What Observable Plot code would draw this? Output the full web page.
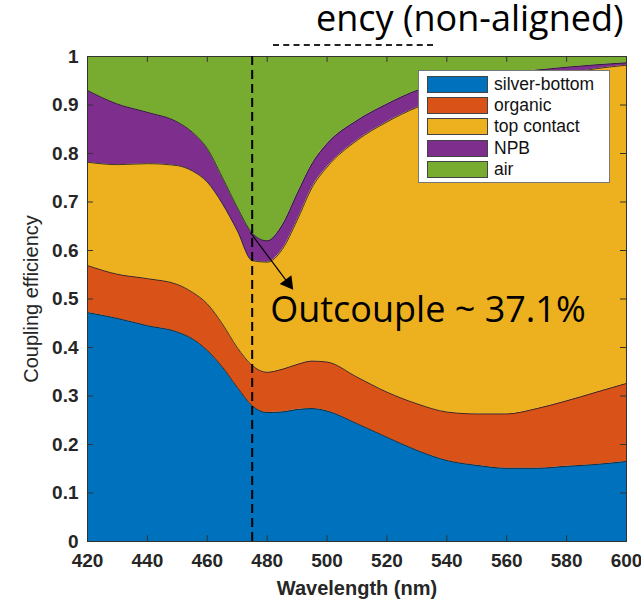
<!DOCTYPE html>
<html>
<head>
<meta charset="utf-8">
<script src="https://cdn.jsdelivr.net/npm/d3@7"></script>
<script src="https://cdn.jsdelivr.net/npm/@observablehq/plot@0.6"></script>
<style>
  html, body { margin: 0; padding: 0; background: #fff; }
  #wrap { position: relative; width: 641px; height: 599px; overflow: hidden; }
  #wrap svg { position: absolute; left: 0; top: 0; }
  #title { position: absolute; left: 316px; top: 0px; line-height: 36px; font-family: "Open Sans", sans-serif; font-size: 36px; color: #000; white-space: nowrap; }
  #subtitle { position: absolute; left: 273px; top: 44px; width: 160px; border-top: 2px dashed #222; }
  #legend { position: absolute; left: 418px; top: 70px; width: 190px; height: 111px; background: #fff; border: 1px solid #777; font-family: "Liberation Sans", Arial, sans-serif; font-size: 17.5px; color: #111; }
  .row { position: absolute; left: 8px; height: 17px; display: flex; align-items: center; }
  .sw { width: 59px; height: 15px; border: 1px solid #444; margin-right: 6px; }
</style>
</head>
<body>
<div id="wrap">
  <div id="title">ency (non-aligned)</div>
  <div id="subtitle"></div>
</div>
<script>
// Wavelength samples (nm)
const wavelength = [420, 430, 440, 450, 455, 460, 465, 470, 475, 480, 485, 490, 495, 500, 510, 520, 530, 540, 550, 560, 570, 580, 590, 600];

// Cumulative upper boundary of each loss channel (fraction of emitted power)
const silverTop  = [0.472, 0.460, 0.445, 0.432, 0.418, 0.394, 0.360, 0.318, 0.280, 0.266, 0.267, 0.272, 0.274, 0.269, 0.243, 0.215, 0.188, 0.167, 0.157, 0.151, 0.151, 0.155, 0.159, 0.165];
const organicTop = [0.569, 0.551, 0.542, 0.530, 0.514, 0.490, 0.449, 0.400, 0.363, 0.349, 0.355, 0.365, 0.372, 0.370, 0.339, 0.308, 0.284, 0.267, 0.263, 0.263, 0.274, 0.290, 0.308, 0.326];
const contactTop = [0.782, 0.777, 0.779, 0.775, 0.764, 0.741, 0.697, 0.641, 0.579, 0.576, 0.602, 0.662, 0.730, 0.772, 0.827, 0.865, 0.895, 0.915, 0.930, 0.945, 0.955, 0.965, 0.975, 0.982];
const npbTop     = [0.930, 0.902, 0.885, 0.865, 0.844, 0.810, 0.751, 0.689, 0.636, 0.620, 0.652, 0.717, 0.779, 0.820, 0.868, 0.902, 0.930, 0.945, 0.955, 0.965, 0.972, 0.978, 0.983, 0.987];
const airTop     = [1, 1, 1, 1, 1, 1, 1, 1, 1, 1, 1, 1, 1, 1, 1, 1, 1, 1, 1, 1, 1, 1, 1, 1];

const layerNames  = ["silver-bottom", "organic", "top contact", "NPB", "air"];
const layerColors = ["#0072BD", "#D95319", "#EDB120", "#7E2F8E", "#77AC30"];
const xTicks = [420, 440, 460, 480, 500, 520, 540, 560, 580, 600];
const yTicks = [0, 0.1, 0.2, 0.3, 0.4, 0.5, 0.6, 0.7, 0.8, 0.9, 1];

const markerWl = 475;
const outcouple = "Outcouple ~ 37.1%";

const zeros = wavelength.map(() => 0);
const bounds = [zeros, silverTop, organicTop, contactTop, npbTop, airTop];
const rows = [];
layerNames.forEach((name, k) => {
  wavelength.forEach((w, i) => rows.push({wl: w, y1: bounds[k][i], y2: bounds[k + 1][i], layer: name}));
});
const edges = [];
[silverTop, organicTop, contactTop, npbTop].forEach((b, k) => {
  wavelength.forEach((w, i) => edges.push({wl: w, y: b[i], k}));
});

const chart = Plot.plot({
  width: 641,
  height: 599,
  marginLeft: 87,
  marginRight: 15,
  marginTop: 56,
  marginBottom: 58,
  style: {fontFamily: "'Liberation Sans', Arial, sans-serif", background: "transparent", color: "#262626"},
  x: {domain: [420, 600]},
  y: {domain: [0, 1]},
  color: {domain: layerNames, range: layerColors},
  marks: [
    Plot.areaY(rows, {x: "wl", y1: "y1", y2: "y2", fill: "layer", z: "layer", curve: "monotone-x"}),
    Plot.lineY(edges, {x: "wl", y: "y", z: "k", stroke: "#1a1a1a", strokeWidth: 0.8, curve: "monotone-x"}),
    // inward tick marks on all four sides
    Plot.ruleX(xTicks, {y1: 0, y2: 0.012, stroke: "#333"}),
    Plot.ruleX(xTicks, {y1: 0.988, y2: 1, stroke: "#333"}),
    Plot.ruleY(yTicks, {x1: 420, x2: 422, stroke: "#333"}),
    Plot.ruleY(yTicks, {x1: 598, x2: 600, stroke: "#333"}),
    Plot.frame({stroke: "#333", strokeWidth: 1}),
    Plot.axisX(xTicks, {tickSize: 0, tickPadding: 12, fontSize: 19, fontWeight: "bold", label: null}),
    Plot.axisY(yTicks, {tickSize: 0, tickPadding: 9, fontSize: 19, fontWeight: "bold", label: null,
      tickFormat: d => String(+d.toFixed(1))}),
    Plot.text(["Wavelength (nm)"], {frameAnchor: "bottom", lineAnchor: "bottom", text: d => d, dy: 53, fontSize: 20, fontWeight: "bold"}),
    Plot.text(["Coupling efficiency"], {frameAnchor: "left", textAnchor: "middle", text: d => d, rotate: -90, dx: -56, fontSize: 20}),
    // marker wavelength and annotation
    Plot.ruleX([markerWl], {stroke: "#000", strokeWidth: 2, strokeDasharray: "9,5"}),
    Plot.link([{x1: 474.4, y1: 0.637, x2: 487.2, y2: 0.531}], {x1: "x1", y1: "y1", x2: "x2", y2: "y2", stroke: "#000", strokeWidth: 1.2}),
    Plot.dot([{x: 487.0, y: 0.533}], {x: "x", y: "y", symbol: "triangle2", r: 7, fill: "#000", stroke: "none", rotate: 143}),
    Plot.text([outcouple], {x: 481, y: 0.476, text: d => d, textAnchor: "start", fontSize: 36, fontFamily: "'Open Sans', sans-serif", fill: "#000"})
  ]
});

const wrap = document.getElementById("wrap");
wrap.insertBefore(chart, wrap.firstChild);

// legend
const legend = document.createElement("div");
legend.id = "legend";
layerNames.forEach((name, i) => {
  const r = document.createElement("div");
  r.className = "row";
  r.style.top = (5 + i * 21.2) + "px";
  const sw = document.createElement("div");
  sw.className = "sw";
  sw.style.background = layerColors[i];
  const t = document.createElement("span");
  t.textContent = name;
  r.appendChild(sw);
  r.appendChild(t);
  legend.appendChild(r);
});
wrap.appendChild(legend);
</script>
</body>
</html>
